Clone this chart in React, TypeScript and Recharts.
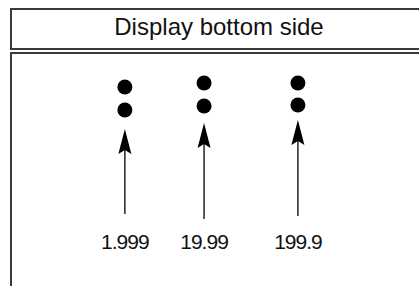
import { ReferenceLine, Scatter, ScatterChart, XAxis, YAxis } from "recharts";

// three display positions, left to right
const labels = ["1.999", "19.99", "199.9"];
const positions = [29.8, 48.7, 71.1];
// heights measured up from the bottom of the plot area
const dotUpper = [142, 146, 146];
const dotLower = [119, 123, 124];
const arrowTip = [100, 106, 109];
const arrowBase = [15, 10, 13];

const dots = positions.flatMap((x, i) => [
  { x, y: dotUpper[i] },
  { x, y: dotLower[i] },
]);
const tips = positions.map((x, i) => ({ x, y: arrowTip[i] }));

const font = '"Liberation Sans", Arial, Helvetica, sans-serif';

const Dot = (props: any) => (
  <circle cx={props.cx} cy={props.cy} r={7.5} fill="#000" />
);

const Head = (props: any) => {
  const { cx, cy } = props;
  return (
    <path
      d={`M${cx},${cy} L${cx + 6.5},${cy + 25} L${cx},${cy + 21} L${cx - 6.5},${cy + 25} Z`}
      fill="#000"
    />
  );
};

const Tick = (props: any) => {
  const { x, y, payload } = props;
  return (
    <text
      x={x}
      y={y + 14}
      textAnchor="middle"
      fontSize={21}
      fontFamily={font}
      letterSpacing={-1}
      fill="#111"
    >
      {labels[positions.indexOf(payload.value)]}
    </text>
  );
};

export default function App() {
  return (
    <div
      style={{
        position: "absolute",
        left: 0,
        top: 0,
        width: 419,
        height: 286,
        overflow: "hidden",
        background: "#fff",
        fontFamily: font,
      }}
    >
      <div
        style={{
          position: "absolute",
          left: 10,
          top: 8,
          width: 460,
          height: 42,
          boxSizing: "border-box",
          border: "2px solid #3a3a3a",
        }}
      />
      <div
        style={{
          position: "absolute",
          left: 19,
          top: 10,
          width: 400,
          textAlign: "center",
          fontSize: 24,
          lineHeight: "33px",
          color: "#111",
        }}
      >
        Display bottom side
      </div>
      <div
        style={{
          position: "absolute",
          left: 10,
          top: 52,
          width: 460,
          height: 260,
          boxSizing: "border-box",
          border: "2px solid #3a3a3a",
        }}
      />
      <div style={{ position: "absolute", left: 0, top: 0 }}>
        <ScatterChart
          width={419}
          height={286}
          margin={{ top: 54, right: 0, bottom: 27, left: 0 }}
        >
          <XAxis
            type="number"
            dataKey="x"
            domain={[0, 100]}
            ticks={positions}
            axisLine={false}
            tickLine={false}
            tickMargin={0}
            height={30}
            interval={0}
            tick={<Tick />}
          />
          <YAxis type="number" dataKey="y" domain={[0, 175]} hide />
          {positions.map((x, i) => (
            <ReferenceLine
              key={labels[i]}
              segment={[
                { x, y: arrowTip[i] - 10 },
                { x, y: arrowBase[i] },
              ]}
              stroke="#222"
              strokeWidth={1.5}
              ifOverflow="visible"
            />
          ))}
          <Scatter data={dots} shape={<Dot />} isAnimationActive={false} />
          <Scatter data={tips} shape={<Head />} isAnimationActive={false} />
        </ScatterChart>
      </div>
    </div>
  );
}
